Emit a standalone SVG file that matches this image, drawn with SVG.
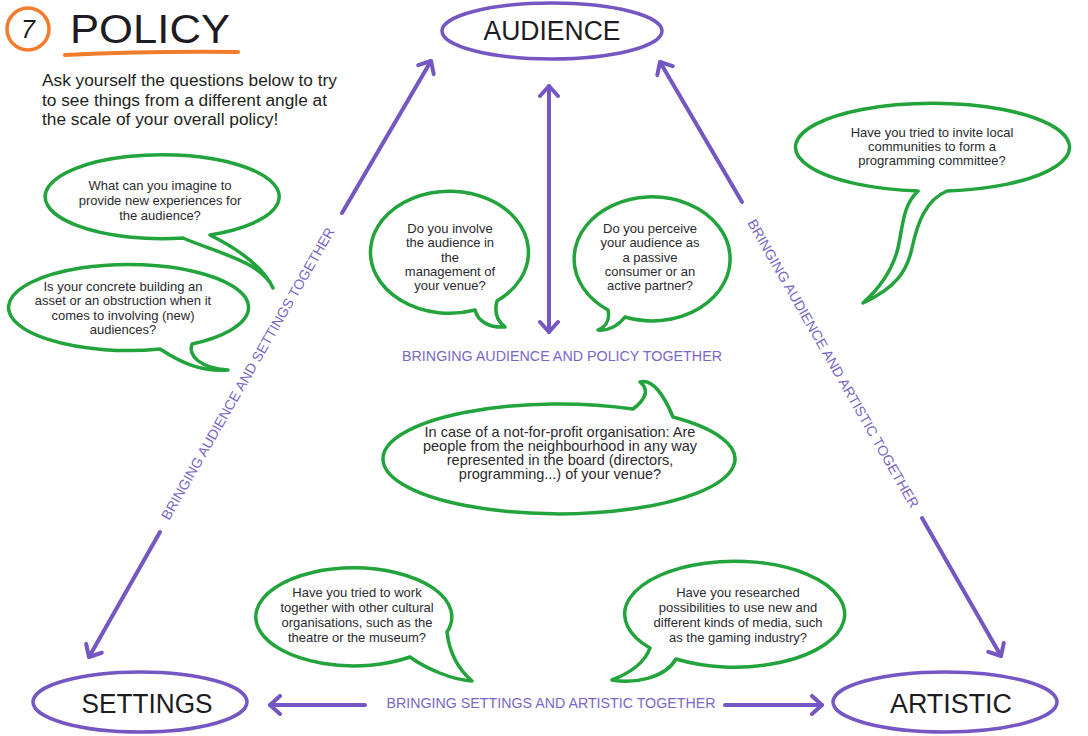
<svg xmlns="http://www.w3.org/2000/svg" width="1088" height="736" viewBox="0 0 1088 736">
<style>
  text { font-family: "Liberation Sans", Arial, sans-serif; }
  .q { font-size: 13px; fill: #2a2a2e; text-anchor: middle; }
  .qb { font-size: 14.5px; fill: #2a2a2e; text-anchor: middle; }
  .lbl { font-size: 14px; fill: #7a66c6; text-anchor: middle; }
  .node { fill: #ffffff; stroke: #7556c2; stroke-width: 3.5; }
  .ntxt { font-size: 27px; fill: #1e1b22; text-anchor: middle; }
  .bub { fill: #ffffff; stroke: #22a33c; stroke-width: 3.5; stroke-linejoin: round; }
  .arr { stroke: #7556c2; stroke-width: 4; fill: none; stroke-linecap: round; }
</style>
<defs>
  <marker id="head" viewBox="-13 -11 16 22" markerUnits="userSpaceOnUse" markerWidth="16" markerHeight="22" refX="0" refY="0" orient="auto-start-reverse">
    <path d="M-10,-9 L0,0 L-10,9" fill="none" stroke="#7556c2" stroke-width="4" stroke-linecap="round" stroke-linejoin="round"/>
  </marker>
</defs>
<rect width="1088" height="736" fill="#ffffff"/>

<g id="title">
  <circle cx="28" cy="29" r="21" fill="none" stroke="#f07c2c" stroke-width="3.5"/>
  <text x="28" y="38" font-size="25" font-style="italic" text-anchor="middle" fill="#1e1b22">7</text>
  <text x="70" y="43" font-size="41" fill="#1e1b22" textLength="160" lengthAdjust="spacingAndGlyphs">POLICY</text>
  <path d="M65,55 Q150,51 238,52" fill="none" stroke="#f07c2c" stroke-width="4" stroke-linecap="round"/>
  <text x="42" y="86" font-size="17.3" fill="#231f20">Ask yourself the questions below to try</text>
  <text x="42" y="106" font-size="17.3" fill="#231f20">to see things from a different angle at</text>
  <text x="42" y="125" font-size="17.3" fill="#231f20">the scale of your overall policy!</text>
</g>

<g id="connectors">
  <line class="arr" x1="342" y1="213" x2="431" y2="61" marker-end="url(#head)"/>
  <line class="arr" x1="160" y1="532" x2="89" y2="657" marker-end="url(#head)"/>
  <line class="arr" x1="742" y1="202" x2="660" y2="62" marker-end="url(#head)"/>
  <line class="arr" x1="922" y1="518" x2="1001" y2="656" marker-end="url(#head)"/>
  <line class="arr" x1="549" y1="86" x2="549" y2="332" marker-start="url(#head)" marker-end="url(#head)"/>
  <line class="arr" x1="365" y1="705" x2="270" y2="705" marker-end="url(#head)"/>
  <line class="arr" x1="725" y1="705" x2="822" y2="705" marker-end="url(#head)"/>
  <text class="lbl" transform="translate(252,376) rotate(-60.2)" textLength="334" lengthAdjust="spacingAndGlyphs">BRINGING AUDIENCE AND SETTINGS TOGETHER</text>
  <text class="lbl" transform="translate(829,366) rotate(60.2)" textLength="330" lengthAdjust="spacingAndGlyphs">BRINGING AUDIENCE AND ARTISTIC TOGETHER</text>
  <text class="lbl" x="562" y="361" textLength="320" lengthAdjust="spacingAndGlyphs">BRINGING AUDIENCE AND POLICY TOGETHER</text>
  <text class="lbl" x="551" y="708" textLength="329" lengthAdjust="spacingAndGlyphs">BRINGING SETTINGS AND ARTISTIC TOGETHER</text>
</g>

<g id="audience">
  <ellipse class="node" cx="552" cy="31" rx="110" ry="28"/>
  <text class="ntxt" x="552" y="40" textLength="137" lengthAdjust="spacingAndGlyphs">AUDIENCE</text>
</g>
<g id="settings">
  <ellipse class="node" cx="140" cy="702" rx="107" ry="30"/>
  <text class="ntxt" x="147" y="713" textLength="131" lengthAdjust="spacingAndGlyphs">SETTINGS</text>
</g>
<g id="artistic">
  <ellipse class="node" cx="945" cy="702" rx="112" ry="30"/>
  <text class="ntxt" x="951" y="713" textLength="122" lengthAdjust="spacingAndGlyphs">ARTISTIC</text>
</g>

<g id="bubble-experiences">
  <path class="bub" d="M183,238 A117,42 0 1 1 210,235 C240,250 263,267 273,288 C262,262 215,252 183,238 Z"/>
  <text class="q" x="160" y="190">What can you imagine to</text>
  <text class="q" x="160" y="205">provide new experiences for</text>
  <text class="q" x="160" y="220">the audience?</text>
</g>
<g id="bubble-building">
  <path class="bub" d="M160,349 A120,43 0 1 1 192,344 C188,356 200,368 228,370 C200,372 180,362 160,349 Z"/>
  <text class="q" x="123" y="291">Is your concrete building an</text>
  <text class="q" x="123" y="305">asset or an obstruction when it</text>
  <text class="q" x="123" y="320">comes to involving (new)</text>
  <text class="q" x="123" y="334">audiences?</text>
</g>
<g id="bubble-management">
  <path class="bub" d="M475,310 A79,61 0 1 1 497,301 C494,312 496,320 505,327 C490,328 478,322 475,310 Z"/>
  <text class="q" x="450" y="233">Do you involve</text>
  <text class="q" x="450" y="247">the audience in</text>
  <text class="q" x="450" y="262">the</text>
  <text class="q" x="450" y="276">management of</text>
  <text class="q" x="450" y="290">your venue?</text>
</g>
<g id="bubble-passive">
  <path class="bub" d="M625,317 A78,62 0 1 0 608,310 C610,320 607,326 598,330 C608,331 618,326 625,317 Z"/>
  <text class="q" x="650" y="233">Do you perceive</text>
  <text class="q" x="650" y="247">your audience as</text>
  <text class="q" x="650" y="262">a passive</text>
  <text class="q" x="650" y="276">consumer or an</text>
  <text class="q" x="650" y="290">active partner?</text>
</g>
<g id="bubble-board">
  <path class="bub" d="M633,409 C645,400 650,390 640,382 C652,378 664,395 673,417 A176,55 0 1 1 633,409 Z"/>
  <text class="qb" x="560" y="437">In case of a not-for-profit organisation: Are</text>
  <text class="qb" x="560" y="451">people from the neighbourhood in any way</text>
  <text class="qb" x="560" y="465">represented in the board (directors,</text>
  <text class="qb" x="560" y="479">programming...) of your venue?</text>
</g>
<g id="bubble-committee">
  <path class="bub" d="M918,191 A137,44 0 1 1 947,191 C925,200 917,225 912,248 C907,272 895,288 863,303 C883,285 893,268 898,248 C903,225 903,205 918,191 Z"/>
  <text class="q" x="932" y="137">Have you tried to invite local</text>
  <text class="q" x="932" y="151">communities to form a</text>
  <text class="q" x="932" y="165">programming committee?</text>
</g>
<g id="bubble-cultural">
  <path class="bub" d="M447,632 A98,49 0 1 0 410,657 C425,668 452,680 472,681 C457,668 449,650 447,632 Z"/>
  <text class="q" x="357" y="597">Have you tried to work</text>
  <text class="q" x="357" y="612">together with other cultural</text>
  <text class="q" x="357" y="627">organisations, such as the</text>
  <text class="q" x="357" y="642">theatre or the museum?</text>
</g>
<g id="bubble-media">
  <path class="bub" d="M676,659 A110,53 0 1 0 650,648 C645,662 630,673 612,680 C635,684 665,678 676,659 Z"/>
  <text class="q" x="738" y="597">Have you researched</text>
  <text class="q" x="738" y="612">possibilities to use new and</text>
  <text class="q" x="738" y="627">different kinds of media, such</text>
  <text class="q" x="738" y="642">as the gaming industry?</text>
</g>
</svg>
